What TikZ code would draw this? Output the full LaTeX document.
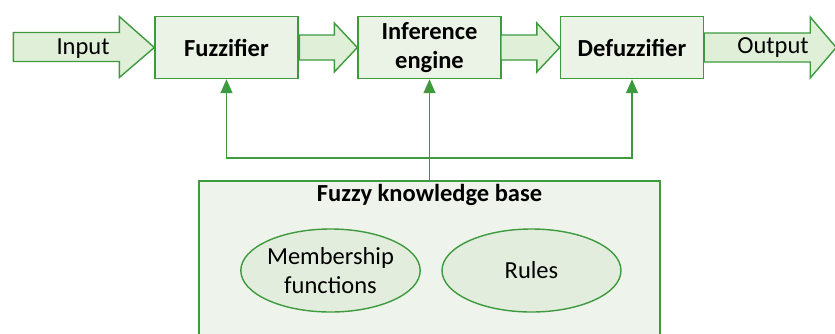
\documentclass[tikz,border=0pt]{standalone}
\usepackage{fontspec}
\setmainfont{Carlito}
\usepackage{tikz}
\usetikzlibrary{calc,positioning}
\usetikzlibrary{shapes.geometric,arrows.meta}
\definecolor{fzgreen}{HTML}{3E9A3E}
\definecolor{fzbox}{HTML}{EAF3E5}
\definecolor{fzarrow}{HTML}{E0EFD8}
\definecolor{fzbase}{HTML}{EEF4EB}
\definecolor{fzoval}{HTML}{E3EDDD}

\begin{document}
\begin{tikzpicture}[x=1pt,y=-1pt,font=\fontsize{24.5}{29}\selectfont,
    stage/.style={draw=fzgreen,fill=fzbox,line width=1.4pt,minimum width=143pt,minimum height=62pt,align=center,font=\fontsize{24.5}{29}\selectfont\bfseries},
    fat/.style={draw=fzgreen,fill=fzarrow,line width=1.4pt,line join=miter},
    feed/.style={draw=fzgreen,line width=1.4pt,-{Triangle[length=14pt,width=12pt]}},
    oval/.style={ellipse,draw=fzgreen,fill=fzoval,line width=1.4pt,minimum width=179pt,minimum height=83pt,align=center,inner sep=0pt}]
    \clip (0,0) rectangle (835,333);
    \useasboundingbox (0,0) rectangle (835,333);

    % processing chain
    \node[stage] (fuzz) at (226.5,47.5) {Fuzzifier};
    \node[stage] (infer) at (429.5,47.5) {Inference\\engine};
    \node[stage] (defuzz) at (632,47.5) {Defuzzifier};

    % block arrows
    \draw[fat] (fuzz.west) -- ++(-35,-31) -- ++(0,16) -- ++(-106,0) -- ++(0,29) -- ++(106,0) -- ++(0,16) -- cycle;
    \node (input) at (83,49) {Input};
    \draw[fat] (infer.west) -- ++(-23,-24.5) -- ++(0,12) -- ++(-35,0) -- ++(0,25) -- ++(35,0) -- ++(0,12) -- cycle;
    \draw[fat] (defuzz.west) -- ++(-23,-24.5) -- ++(0,12) -- ++(-36,0) -- ++(0,25) -- ++(36,0) -- ++(0,12) -- cycle;
    \draw[fat] (defuzz.east) -- ++(0,-14.5) -- ++(106,0) -- ++(0,-16) -- ++(26,30.5) -- ++(-26,30.5) -- ++(0,-16) -- ++(-106,0) -- cycle;
    \node (output) at (773,48) {Output};

    % knowledge base
    \node[draw=fzgreen,fill=fzbase,line width=1.4pt,minimum width=461pt,minimum height=190pt] (kb) at (429.5,276) {};
    \node[font=\fontsize{24.5}{29}\selectfont\bfseries,below=0pt of kb.north] (kbtitle) {Fuzzy knowledge base};
    \node[oval] (member) at (330.5,270.5) {Membership\\functions};
    \node[oval] (rules) at (531.5,270.5) {Rules};

    % feedback lines
    \coordinate (bus) at (kb.north |- 0,158);
    \draw[fzgreen,line width=1.4pt] (kb.north) -- (bus);
    \draw[feed] (bus) -- (infer.south);
    \draw[feed] (bus) -| (fuzz.south);
    \draw[feed] (bus) -| (defuzz.south);
\end{tikzpicture}
\end{document}
